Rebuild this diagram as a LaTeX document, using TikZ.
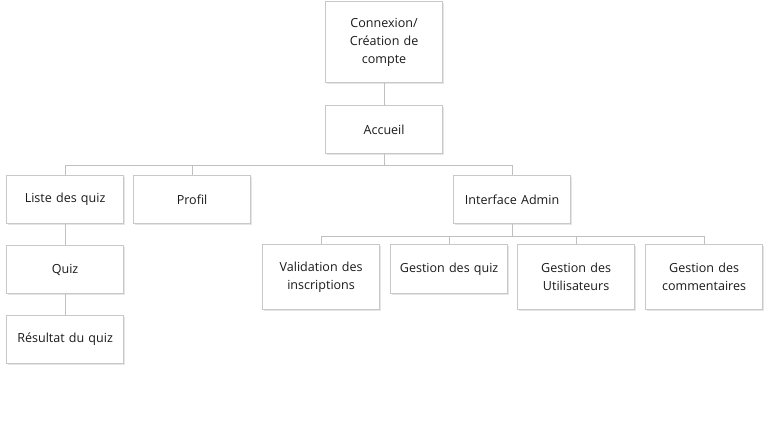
\documentclass[tikz,border=0pt]{standalone}
\usepackage{fontspec}
\setmainfont{Open Sans}
\definecolor{bordc}{HTML}{C8C8C8}
\definecolor{linec}{HTML}{C0C0C0}
\definecolor{txtc}{HTML}{1A1A1A}
\tikzset{
  box/.style={draw=bordc, line width=0.9pt, fill=white, anchor=north west, inner sep=0pt,
    minimum width=87.75pt, text width=86pt, align=center, font=\fontsize{9.4pt}{13.5pt}\selectfont, text=txtc,
    general shadow={fill=black!10, shadow xshift=1.2pt, shadow yshift=-1.2pt}},
  conn/.style={draw=linec, line width=0.8pt}
}
\usetikzlibrary{shadows}
\begin{document}
\begin{tikzpicture}[x=0.75pt,y=-0.75pt]
\useasboundingbox (0,0) rectangle (773,424);
\node[box, minimum height=60.75pt] (cnx) at (325,1) {Connexion/\\Création de\\compte};
\node[box, minimum height=36pt] (acc) at (325,105) {Accueil};
\node[box, minimum height=36pt] (liste) at (6,175) {Liste des quiz};
\node[box, minimum height=36pt] (prof) at (133,175) {Profil};
\node[box, minimum height=36pt] (adm) at (453,175) {Interface Admin};
\node[box, minimum height=36pt] (quiz) at (6,245) {Quiz};
\node[box, minimum height=36pt] (res) at (6,315) {Résultat du quiz};
\node[box, minimum height=48.75pt] (val) at (262,244) {Validation des\\inscriptions};
\node[box, minimum height=36.75pt] (gq) at (390,244) {Gestion des quiz};
\node[box, minimum height=48.75pt] (gu) at (517,244) {Gestion des\\Utilisateurs};
\node[box, minimum height=48.75pt] (gc) at (645,244) {Gestion des\\commentaires};
\draw[conn] (cnx.south) -- (acc.north);
\draw[conn] (acc.south) -- ++(0,11) -| (liste.north);
\draw[conn] (acc.south) -- ++(0,11) -| (prof.north);
\draw[conn] (acc.south) -- ++(0,11) -| (adm.north);
\draw[conn] (liste.south) -- (quiz.north);
\draw[conn] (quiz.south) -- (res.north);
\draw[conn] (adm.south) -- ++(0,12) -| (val.north);
\draw[conn] (adm.south) -- ++(0,12) -| (gq.north);
\draw[conn] (adm.south) -- ++(0,12) -| (gu.north);
\draw[conn] (adm.south) -- ++(0,12) -| (gc.north);
\end{tikzpicture}
\end{document}
